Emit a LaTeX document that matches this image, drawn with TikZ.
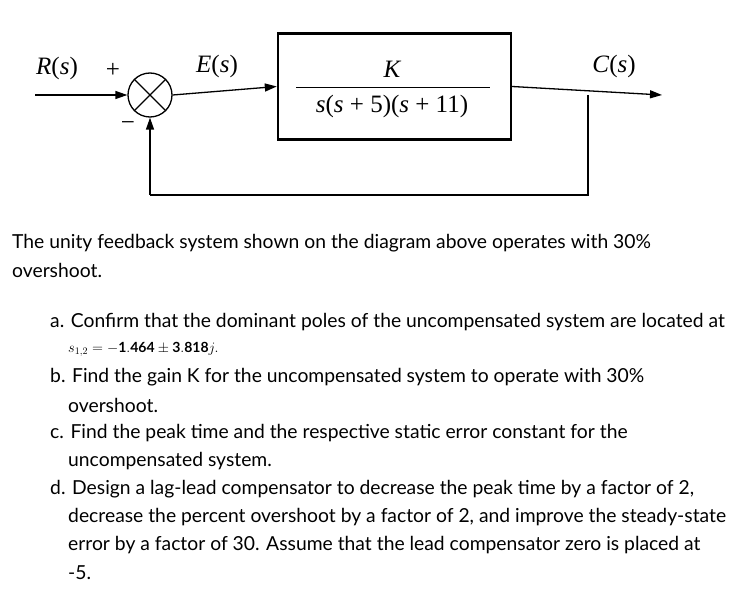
\documentclass[tikz,border=0pt]{standalone}
\usepackage{fontspec}
\setmainfont{Lato}
\newfontfamily\dserif{Liberation Serif}
\usetikzlibrary{arrows.meta}
\begin{document}
\begin{tikzpicture}[x=1pt,y=-1pt,
  sig/.style={line width=1.3pt,-{Triangle[length=12pt,width=8pt]}},
  wire/.style={line width=1.3pt},
  dlab/.style={font=\dserif\fontsize{25}{25}\selectfont},
  body/.style={anchor=west,font=\fontsize{19.3}{22}\selectfont,inner sep=0pt}]
\useasboundingbox (0,0) rectangle (756,599);
\coordinate (in) at (35,95);
\node[draw,circle,line width=1.3pt,minimum size=44pt,inner sep=0pt] (sum) at (150,95) {};
\draw[line width=1.3pt] (sum.north west)--(sum.south east) (sum.north east)--(sum.south west);
\node[draw,line width=2.4pt,minimum width=233pt,minimum height=106pt] (G) at (394.5,86.5) {};
\node[dlab] (num) at (392,69) {\itshape K};
\draw[line width=1pt] (296,88) -- (490,88);
\node[dlab] (den) at (392,106) {\textit{s}(\textit{s} + 5)(\textit{s} + 11)};
\coordinate (out) at (662,95);
\coordinate (tap) at (588,95);
\coordinate (c1) at (588,195);
\coordinate (c2) at (150,195);
\draw[sig] (in) -- (sum.west);
\draw[sig] (sum.east) -- (G.west);
\draw[sig] (G.east) -- (out);
\draw[wire] (tap) -- (c1) -- (c2);
\draw[sig] (c2) -- (sum.south);
\node[dlab] (R) at (57,68) {\textit{R}(\textit{s})};
\node[dlab] (plus) at (113,70) {+};
\node[dlab] (minus) at (128,126) {\textminus};
\node[dlab] (E) at (217,66) {\textit{E}(\textit{s})};
\node[dlab] (C) at (614,66) {\textit{C}(\textit{s})};
\node[body] (t1) at (12,243) {The unity feedback system shown on the diagram above operates with 30\%};
\node[body] (t2) at (12,270) {overshoot.};
\node[body] (a1) at (50,322) {a. Confirm that the dominant poles of the uncompensated system are located at};
\node[body,font=\fontsize{14}{16}\selectfont] (a2) at (68,349) {$s_{1,2}=\mathbf{-1.464\pm3.818}j.$};
\node[body] (b1) at (50,377) {b. Find the gain K for the uncompensated system to operate with 30\%};
\node[body] (b2) at (68,405) {overshoot.};
\node[body] (c1t) at (50,433) {c. Find the peak time and the respective static error constant for the};
\node[body] (c2t) at (68,461) {uncompensated system.};
\node[body] (d1) at (50,489) {d. Design a lag-lead compensator to decrease the peak time by a factor of 2,};
\node[body] (d2) at (68,517) {decrease the percent overshoot by a factor of 2, and improve the steady-state};
\node[body] (d3) at (68,545) {error by a factor of 30. Assume that the lead compensator zero is placed at};
\node[body] (d4) at (68,573) {-5.};
\end{tikzpicture}
\end{document}
